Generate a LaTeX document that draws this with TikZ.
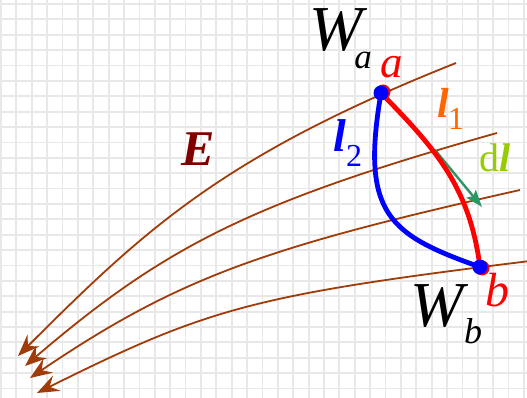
\documentclass[tikz,border=0pt]{standalone}
\usepackage{fontspec}
\setmainfont{Liberation Serif}
\usepackage{xcolor}
\usetikzlibrary{arrows.meta}

\definecolor{fieldbrown}{RGB}{160,60,10}
\definecolor{emaroon}{RGB}{128,0,0}
\definecolor{lorange}{RGB}{255,102,0}
\definecolor{dlgreen}{RGB}{46,150,100}
\definecolor{dlyellow}{RGB}{153,204,0}

\begin{document}
\begin{tikzpicture}[
    x=1pt, y=-1pt,
    gridline/.style = {draw=black!9, line width=1.8pt},
    field/.style    = {draw=fieldbrown, line width=1.8pt,
                       -{Stealth[length=22pt, width=17pt, inset=8pt]}},
    path1/.style    = {draw=red, line width=4.8pt},
    path2/.style    = {draw=blue, line width=4.8pt},
    dlarr/.style    = {draw=dlgreen, line width=2.4pt,
                       -{Stealth[length=17pt, width=12pt, inset=3pt]}},
    lbl/.style      = {inner sep=0pt},
]

%% ── Canvas and grid ───────────────────────────────────────────────────────
\fill[white] (0,0) rectangle (527,398);
\useasboundingbox (0,0) rectangle (527,398);
\foreach \i in {0,...,34}
  \draw[gridline] (1+15.38*\i,0) -- (1+15.38*\i,398);
\foreach \j in {0,...,25}
  \draw[gridline] (0,4+15.38*\j) -- (527,4+15.38*\j);

%% ── Field lines ──────────────────────────────────────────────────────────
\draw[field] (456,63)  .. controls (223.5,155.5) and (145,229) .. (18,356);
\draw[field] (497,133) .. controls (247,203) and (162,249) .. (25,366);
\draw[field] (520,190) .. controls (266,247) and (179,277) .. (30,378);
\draw[field] (530,261) .. controls (253,295) and (208,308) .. (37,393);

%% ── Points and paths ─────────────────────────────────────────────────────
\coordinate (a) at (381,93);
\coordinate (b) at (480,267);
\coordinate (dls) at (435,150);
\coordinate (dle) at (482,207);

\draw[path2] (a) .. controls (360,215) and (390,235) .. (b);
\draw[dlarr] (dls) -- (dle);
\draw[path1] (a) .. controls (437,150) and (469.6,187.8) .. (b);

\fill[red]  ([shift={(2,-1)}]a) circle (7.5);
\fill[blue] (a) circle (7.5);
\fill[red]  ([shift={(2,1)}]b) circle (7.5);
\fill[blue] (b) circle (7.5);

%% ── Labels ───────────────────────────────────────────────────────────────
\node[lbl, font=\fontsize{64}{70}\selectfont\itshape] (wa) at (336,30) {W};
\node[lbl, font=\fontsize{35}{40}\selectfont\itshape] (wasub) at (363,60) {a};
\node[lbl, font=\fontsize{45}{50}\selectfont\itshape, text=red] (alab) at (392,67) {a};

\node[lbl, font=\fontsize{64}{70}\selectfont\itshape] (wb) at (437,306) {W};
\node[lbl, font=\fontsize{36}{40}\selectfont\itshape] (wbsub) at (473,331) {b};
\node[lbl, font=\fontsize{48}{52}\selectfont\itshape, text=red] (blab) at (497,290) {b};

\node[lbl, font=\fontsize{42}{46}\selectfont\bfseries\itshape, text=lorange] (lone) at (443,103) {l};
\node[lbl, font=\fontsize{32}{36}\selectfont, text=lorange] (lonesub) at (456,119) {1};
\node[lbl, font=\fontsize{46}{50}\selectfont\bfseries\itshape, text=blue] (ltwo) at (340,136) {l};
\node[lbl, font=\fontsize{32}{36}\selectfont, text=blue] (ltwosub) at (354,156) {2};

\node[lbl, font=\fontsize{40}{44}\selectfont, text=dlyellow] (dl) at (495,158)
  {d\textbf{\textit{l}}};
\node[lbl, font=\fontsize{50}{54}\selectfont\bfseries\itshape, text=emaroon] (elab) at (198,149) {E};

\end{tikzpicture}
\end{document}
